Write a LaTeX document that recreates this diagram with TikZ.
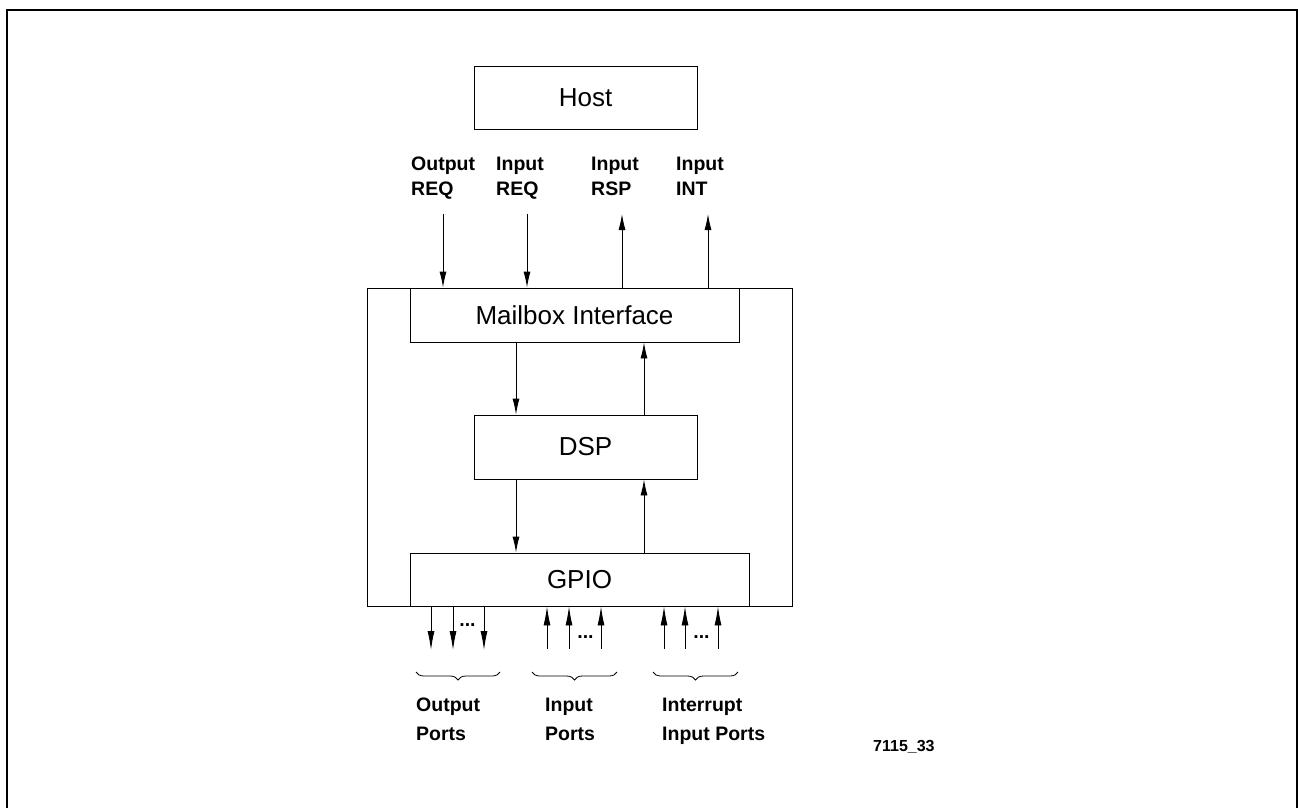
\documentclass[tikz,border=0pt]{standalone}
\usepackage{fontspec}
\setmainfont{Liberation Sans}
\usetikzlibrary{arrows.meta,decorations.pathreplacing}
\begin{document}
\begin{tikzpicture}[x=1pt,y=-1pt,
  box/.style={draw, line width=0.9pt, rectangle, inner sep=0pt, font=\fontsize{26}{31}\selectfont},
  lbl/.style={inner sep=0pt, align=left, anchor=north west, font=\fontsize{19.5}{25}\selectfont\bfseries},
  plbl/.style={inner sep=0pt, align=left, anchor=north west, font=\fontsize{19.5}{29}\selectfont\bfseries},
  arr/.style={line width=0.9pt, -{Latex[length=16pt,width=7pt]}},
  parr/.style={line width=0.9pt, -{Latex[length=19pt,width=7pt]}},
  brc/.style={line width=0.8pt, decorate, decoration={brace, amplitude=8pt, mirror}},
  dotsty/.style={inner sep=0pt, anchor=base, font=\fontsize{19.5}{24}\selectfont\bfseries}
]
\useasboundingbox (0,0) rectangle (1298,807);
% page frame
\draw[line width=2.5pt] (7,830) -- (7,10) -- (1297,10) -- (1297,830);

% boxes
\node[box, minimum width=223pt, minimum height=63pt] (host) at (585.5,97.5) {Host};
\node[box, minimum width=425pt, minimum height=318pt] (outer) at (579.5,447) {};
\node[box, fill=white, minimum width=329pt, minimum height=54pt] (mail) at (574.5,315) {Mailbox Interface};
\node[box, minimum width=223pt, minimum height=64pt] (dsp) at (585.5,447) {DSP};
\node[box, minimum width=339pt, minimum height=53pt] (gpio) at (579.5,579.5) {GPIO};

% host side labels
\node[lbl] (oreq) at (411,157) {Output\\REQ};
\node[lbl] (ireq) at (496,157) {Input\\REQ};
\node[lbl] (irsp) at (591,157) {Input\\RSP};
\node[lbl] (iint) at (676,157) {Input\\INT};

% host side arrows
\coordinate (a1) at (443,214);
\coordinate (a2) at (527,214);
\coordinate (a3) at (622,214);
\coordinate (a4) at (708,214);
\draw[arr] (a1) -- (a1 |- mail.north);
\draw[arr] (a2) -- (a2 |- mail.north);
\draw[arr] (a3 |- mail.north) -- (a3);
\draw[arr] (a4 |- mail.north) -- (a4);

% internal arrows
\coordinate (dn) at (516,0);
\coordinate (up) at (644,0);
\draw[arr] (dn |- mail.south) -- (dn |- dsp.north);
\draw[arr] (up |- dsp.north) -- (up |- mail.south);
\draw[arr] (dn |- dsp.south) -- (dn |- gpio.north);
\draw[arr] (up |- gpio.north) -- (up |- dsp.south);

% port arrows
\coordinate (o1) at (431,650);
\coordinate (o2) at (453,650);
\coordinate (o3) at (484,650);
\draw[parr] (o1 |- gpio.south) -- (o1);
\draw[parr] (o2 |- gpio.south) -- (o2);
\draw[parr] (o3 |- gpio.south) -- (o3);
\coordinate (i1) at (547,649);
\coordinate (i2) at (569,649);
\coordinate (i3) at (601,649);
\draw[parr] (i1) -- (i1 |- gpio.south);
\draw[parr] (i2) -- (i2 |- gpio.south);
\draw[parr] (i3) -- (i3 |- gpio.south);
\coordinate (n1) at (664,649);
\coordinate (n2) at (685,649);
\coordinate (n3) at (718,649);
\draw[parr] (n1) -- (n1 |- gpio.south);
\draw[parr] (n2) -- (n2 |- gpio.south);
\draw[parr] (n3) -- (n3 |- gpio.south);

% dots
\node[dotsty] (od) at (467.5,626) {...};
\node[dotsty] (id) at (585.5,638) {...};
\node[dotsty] (nd) at (701.5,638) {...};

% braces
\draw[brc] (416,672) -- (500,672);
\draw[brc] (532,672) -- (617,672);
\draw[brc] (653,672) -- (738,672);

% port labels
\node[plbl] (opl) at (416,698) {Output\\Ports};
\node[plbl] (ipl) at (545,698) {Input\\Ports};
\node[plbl] (npl) at (662,698) {Interrupt\\Input Ports};

% figure number
\node[anchor=base west, inner sep=0pt, font=\fontsize{16}{19}\selectfont\bfseries] (fig) at (873,751) {7115\_33};
\end{tikzpicture}
\end{document}
